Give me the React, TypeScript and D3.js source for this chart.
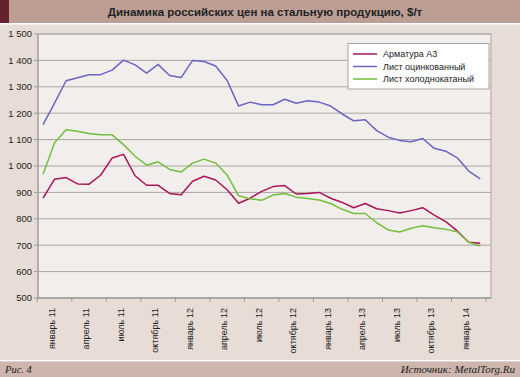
import React from "react";
import * as d3 from "d3";

const months = [
  "январь 11","февраль 11","март 11","апрель 11","май 11","июнь 11","июль 11","август 11","сентябрь 11","октябрь 11","ноябрь 11","декабрь 11",
  "январь 12","февраль 12","март 12","апрель 12","май 12","июнь 12","июль 12","август 12","сентябрь 12","октябрь 12","ноябрь 12","декабрь 12",
  "январь 13","февраль 13","март 13","апрель 13","май 13","июнь 13","июль 13","август 13","сентябрь 13","октябрь 13","ноябрь 13","декабрь 13",
  "январь 14","февраль 14","март 14",
];
const armatura = [878, 950, 956, 932, 931, 965, 1030, 1044, 963, 927, 927, 896, 891, 942, 961, 947, 910, 859, 878, 904, 922, 926, 894, 896, 900, 878, 862, 842, 858, 838, 831, 822, 831, 842, 814, 789, 754, 711, 707];
const galvanized = [1157, 1238, 1323, 1334, 1346, 1346, 1363, 1401, 1383, 1352, 1385, 1343, 1335, 1400, 1396, 1379, 1324, 1227, 1242, 1232, 1232, 1253, 1238, 1247, 1242, 1227, 1197, 1171, 1175, 1134, 1109, 1097, 1092, 1104, 1067, 1056, 1031, 981, 951];
const coldRolled = [969, 1088, 1137, 1132, 1123, 1118, 1118, 1081, 1037, 1003, 1016, 987, 977, 1011, 1026, 1011, 966, 887, 876, 870, 890, 896, 882, 877, 871, 858, 836, 820, 820, 785, 758, 750, 764, 774, 766, 760, 751, 711, 697];
const yTicks = [500, 600, 700, 800, 900, 1000, 1100, 1200, 1300, 1400, 1500];
const seriesNames = ["Арматура А3", "Лист оцинкованный", "Лист холоднокатаный"];
const title = "Динамика российских цен на стальную продукцию, $/т";
const figLabel = "Рис. 4";
const source = "Источник: MetalTorg.Ru";

const W = 520, H = 377;
const plotL = 38, plotR = 491, plotT = 34, plotB = 298;
const axisR = 486;
const colors = ["#ab1458", "#6a64c2", "#72bf3e"];
const sans = "'Liberation Sans', Arial, sans-serif";
const serif = "'Liberation Serif', 'Times New Roman', serif";

export default function App() {
  const x = d3.scaleBand<string>().domain(months).range([plotL - 0.7, axisR]).padding(0);
  const y = d3.scaleLinear().domain([500, 1500]).range([plotB, plotT]);
  const cx = (i: number) => (x(months[i]) as number) + x.bandwidth() / 2;
  const line = d3.line<number>().x((_, i) => cx(i)).y((d) => y(d));
  const allSeries = [armatura, galvanized, coldRolled];
  const fmt = (v: number) => (v >= 1000 ? `${Math.floor(v / 1000)} ${String(v % 1000).padStart(3, "0")}` : String(v));
  const tickIdx = d3.range(0, months.length + 1, 3);
  const labelIdx = d3.range(0, months.length, 3);

  return (
    <svg width={W} height={H} style={{ position: "absolute", left: 0, top: 0 }}>
      <rect x={0} y={0} width={W} height={H} fill="#e8dcd7" />
      <rect x={0} y={0} width={W} height={23} fill="#bc9e95" />
      <rect x={0} y={0} width={9} height={23} fill="#66212a" />
      <rect x={0} y={23} width={W} height={1.5} fill="#ffffff" />
      <text x={265} y={16} textAnchor="middle" fontFamily={sans} fontWeight="bold" fontSize={11.5} fill="#222">{title}</text>

      <rect x={plotL} y={plotT} width={plotR - plotL} height={plotB - plotT} fill="#f2eeec" stroke="#aaa5a3" strokeWidth={1} />
      {yTicks.map((t) => (
        <g key={t}>
          <line x1={plotL} x2={plotR} y1={y(t)} y2={y(t)} stroke="#aaa5a3" strokeWidth={1} />
          <line x1={plotL - 4} x2={plotL} y1={y(t)} y2={y(t)} stroke="#999" strokeWidth={1} />
          <text x={32} y={y(t) + 3.3} textAnchor="end" fontFamily={sans} fontSize={9.5} fill="#222">{fmt(t)}</text>
        </g>
      ))}
      <line x1={plotL} x2={plotL} y1={plotT} y2={plotB} stroke="#999" strokeWidth={1} />
      <line x1={plotL} x2={plotR} y1={plotB} y2={plotB} stroke="#999" strokeWidth={1} />
      {tickIdx.map((i) => {
        const tx = i < months.length ? (x(months[i]) as number) : axisR;
        return <line key={i} x1={tx} x2={tx} y1={plotB} y2={plotB + 4} stroke="#999" strokeWidth={1} />;
      })}
      {labelIdx.map((i) => {
        const lx = (x(months[i]) as number) + 14.2 + 3;
        return (
          <text key={i} transform={`translate(${lx},308) rotate(-90)`} textAnchor="end" fontFamily={sans} fontSize={9} fill="#222">{months[i]}</text>
        );
      })}

      {allSeries.map((s, k) => (
        <path key={k} d={line(s) as string} fill="none" stroke={colors[k]} strokeWidth={1.5} strokeLinejoin="round" />
      ))}

      <rect x={348} y={43.5} width={141} height={45.5} fill="#ffffff" stroke="#aaa5a3" strokeWidth={1} />
      {seriesNames.map((n, k) => (
        <g key={n}>
          <line x1={353} x2={377} y1={54 + k * 12.5} y2={54 + k * 12.5} stroke={colors[k]} strokeWidth={1.5} />
          <text x={383} y={57.3 + k * 12.5} fontFamily={sans} fontSize={9} fill="#222">{n}</text>
        </g>
      ))}

      <rect x={0} y={360} width={W} height={1.5} fill="#ffffff" />
      <rect x={0} y={361.5} width={W} height={H - 361.5} fill="#cdb6ad" />
      <text x={5} y={373} fontFamily={serif} fontStyle="italic" fontSize={10.5} fill="#222">{figLabel}</text>
      <text x={515} y={373} textAnchor="end" fontFamily={serif} fontStyle="italic" fontSize={11} fill="#222">{source}</text>
    </svg>
  );
}
